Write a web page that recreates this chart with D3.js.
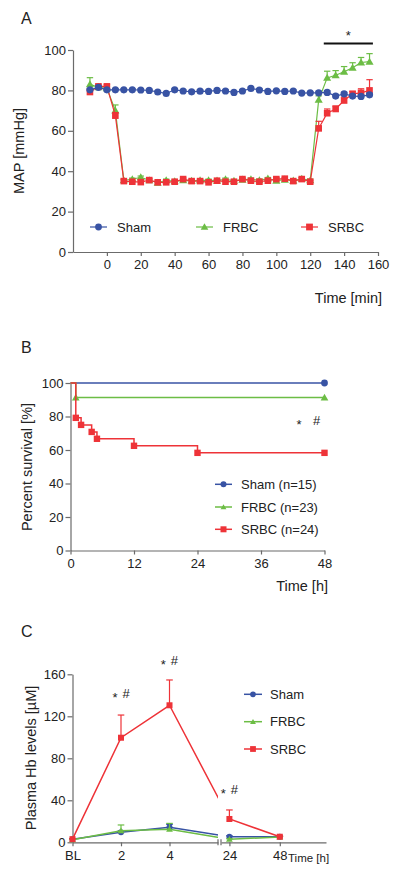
<!DOCTYPE html>
<html><head><meta charset="utf-8">
<script src="https://cdn.jsdelivr.net/npm/d3@7"></script>
<style>
body{margin:0;background:#fff}
svg text{font-family:"Liberation Sans",Arial,Helvetica,sans-serif;fill:#222}
</style>
</head><body>
<svg id="chart" width="400" height="875"></svg>
<script>
// ---------- DATA ----------
const groups = ["Sham","FRBC","SRBC"];
// Panel A: MAP over time
const timesA = [-10,-5,0,5,10,15,20,25,30,35,40,45,50,55,60,65,70,75,80,85,90,95,100,105,110,115,120,125,130,135,140,145,150,155];
const mapSham = [80.3,81.5,80.3,80.3,80.3,80.3,80.2,80,79.2,78.5,80.3,79.7,79.3,79.6,79.5,80,79.7,79,79.7,81,80.2,79.5,79.8,79.5,79.7,78.7,78.8,78.8,79,77.2,78.3,77.2,77,77.8];
const mapFrbc = [83,81.5,81,70,35.5,36,37,35.5,34.3,35.5,35,35.5,35.2,35.5,35.5,35.3,36,35.2,35.8,36,35.5,36.3,35.3,35.8,35.3,36.2,35.5,75.3,86.2,87.5,89.2,91.2,93.8,94.2];
const semFrbc = [3.3,0.8,0.8,2.8,0.6,0.6,0.6,0.6,0.6,0.6,0.6,0.6,0.6,0.6,0.6,0.6,0.6,0.6,0.6,0.6,0.6,0.6,0.6,0.6,0.6,0.6,0.6,2,3.3,2.3,2.6,2.5,2.5,4];
const mapSrbc = [79.2,82,82,67.5,35.1,34.8,34.6,35.6,34.5,34.5,34.8,36.1,35.1,35.1,34.5,35.3,34.8,34.8,36.1,35.3,34.8,35.3,36.1,36.3,35.1,36.1,34.8,61.2,68.7,70.8,75,78.3,78.8,80];
const semSrbc = [0.8,0.8,0.8,1.5,0.6,0.6,0.6,0.6,0.6,0.6,0.6,0.6,0.6,0.6,0.6,0.6,0.6,0.6,0.6,0.6,0.6,0.6,0.6,0.6,0.6,0.6,0.6,3.5,2.1,1.5,1.7,1.2,2,5.3];
const semSham = [0.5,0.5,0.5,0.5,0.5,0.5,0.5,0.5,0.5,0.5,0.5,0.5,0.5,0.5,0.5,0.5,0.5,0.5,0.5,0.5,0.5,0.5,0.5,0.5,0.5,0.5,0.5,0.8,0.8,0.8,0.8,0.8,0.8,0.8];
const ticksAx = [0,20,40,60,80,100,120,140,160];
const ticksAy = [0,20,40,60,80,100];

// Panel B: Kaplan-Meier survival
const survTimesSham = [0,48];
const survSham = [100,100];
const survTimesFrbc = [0,1,48];
const survFrbc = [100,91.3,91.3];
const survTimesSrbc = [0,1,2,4,5,12,24,48];
const survSrbc = [100,79.2,75,70.8,66.7,62.5,58.3,58.3];
const legendB = ["Sham (n=15)","FRBC (n=23)","SRBC (n=24)"];
const ticksBx = [0,12,24,36,48];
const ticksBy = [0,20,40,60,80,100];

// Panel C: plasma Hb levels
const timesC = [0,2,4,24,48];
const timeLabelsC = ["BL","2","4","24","48"];
const hbSham = [3,9.5,14.3,5.4,5.3];
const semHbSham = [0.5,1.5,2.7,0.8,0.5];
const hbFrbc = [2.5,11,12.4,2.9,5];
const semHbFrbc = [0.5,5.5,5.6,0.5,0.5];
const hbSrbc = [3,99.6,130.5,22.2,5.3];
const semHbSrbc = [0.5,21.6,24.1,8.6,0.5];
const ticksCy = [0,40,80,120,160];

// ---------- STYLE ----------
const col = {Sham:"#3853a4", FRBC:"#6cbd45", SRBC:"#ee3338"};
const shape = {Sham:"circle", FRBC:"triangle", SRBC:"square"};
const axisCol = "#6b6b6b";
const svg = d3.select("#chart");

function styleAxis(g){
  g.selectAll("path,line").attr("stroke",axisCol).attr("stroke-width",1.2);
  g.selectAll("text").attr("fill","#222").style("font-size","13px");
}
function marker(g, type, x, y, s, color){
  if(type==="circle") g.append("circle").attr("cx",x).attr("cy",y).attr("r",s).attr("fill",color);
  else if(type==="square") g.append("rect").attr("x",x-s).attr("y",y-s).attr("width",2*s).attr("height",2*s).attr("fill",color);
  else g.append("path").attr("d",d3.symbol(d3.symbolTriangle, s*s*2.2)()).attr("transform",`translate(${x},${y+0.6})`).attr("fill",color);
}
function errBar(g, x, y0, y1, color, w){
  g.append("line").attr("x1",x).attr("x2",x).attr("y1",y0).attr("y2",y1).attr("stroke",color).attr("stroke-width",1.2);
  g.append("line").attr("x1",x-w).attr("x2",x+w).attr("y1",y1).attr("y2",y1).attr("stroke",color).attr("stroke-width",1.2);
}
function label(txt,x,y,size,anchor,extra){
  const t = svg.append("text").attr("x",x).attr("y",y).attr("text-anchor",anchor||"start").style("font-size",size+"px").text(txt);
  return t;
}
function vlabel(txt,x,y,size){
  svg.append("text").attr("transform",`translate(${x},${y}) rotate(-90)`).attr("text-anchor","middle").attr("dy","0.35em").style("font-size",size+"px").text(txt);
}

// ---------- PANEL A ----------
const xA = d3.scaleLinear().domain([-20,160]).range([73,378]);
const yA = d3.scaleLinear().domain([0,100]).range([252,50]);
label("A",21,24,16);
svg.append("g").attr("transform","translate(0,252)")
  .call(d3.axisBottom(xA).tickValues(ticksAx).tickSize(4).tickSizeOuter(0).tickPadding(4)).call(styleAxis);
svg.append("g").attr("transform",`translate(${xA(-20)},0)`)
  .call(d3.axisLeft(yA).tickValues(ticksAy).tickSize(5).tickSizeOuter(0).tickPadding(2)).call(styleAxis);
vlabel("MAP [mmHg]",18.5,151,14.5);
label("Time [min]",382,303,14.5,"end");

const seriesA = [
  {g:"FRBC", v:mapFrbc, e:semFrbc},
  {g:"SRBC", v:mapSrbc, e:semSrbc},
  {g:"Sham", v:mapSham, e:semSham}
];
const lineA = d3.line().x(d=>xA(d[0])).y(d=>yA(d[1]));
seriesA.forEach(s=>{
  const pts = timesA.map((t,i)=>[t,s.v[i]]);
  const g = svg.append("g");
  g.append("path").attr("d",lineA(pts)).attr("fill","none").attr("stroke",col[s.g]).attr("stroke-width",1.2);
  timesA.forEach((t,i)=>errBar(g,xA(t),yA(s.v[i]),yA(s.v[i]+s.e[i]),col[s.g],3.2));
  timesA.forEach((t,i)=>marker(g,shape[s.g],xA(t),yA(s.v[i]),s.g==="FRBC"?3.6:(s.g==="SRBC"?3.3:3.6),col[s.g]));
});
// significance bar
svg.append("line").attr("x1",xA(128)).attr("x2",xA(157)).attr("y1",43.5).attr("y2",43.5).attr("stroke","#111").attr("stroke-width",1.8);
label("*",xA(142.5),39.5,13,"middle");
// legend A
const legA = [{g:"Sham",x:90},{g:"FRBC",x:196},{g:"SRBC",x:301}];
legA.forEach(l=>{
  const g = svg.append("g");
  g.append("line").attr("x1",l.x).attr("x2",l.x+17).attr("y1",227).attr("y2",227).attr("stroke",col[l.g]).attr("stroke-width",1.2);
  marker(g,shape[l.g],l.x+8.5,227,3.4,col[l.g]);
  label(l.g,l.x+27,231.5,13);
});

// ---------- PANEL B ----------
const xB = d3.scaleLinear().domain([0,48]).range([70.5,324.5]);
const yB = d3.scaleLinear().domain([0,100]).range([550.5,383]);
label("B",21,353,16);
svg.append("g").attr("transform","translate(0,550.5)")
  .call(d3.axisBottom(xB).tickValues(ticksBx).tickSize(4).tickSizeOuter(0).tickPadding(4)).call(styleAxis);
svg.append("g").attr("transform","translate(70.5,0)")
  .call(d3.axisLeft(yB).tickValues(ticksBy).tickSize(5).tickSizeOuter(0).tickPadding(2)).call(styleAxis);
vlabel("Percent survival [%]",27,467,14.5);
label("Time [h]",328,591,14.5,"end");

const seriesB = [
  {g:"Sham", t:survTimesSham, v:survSham},
  {g:"FRBC", t:survTimesFrbc, v:survFrbc},
  {g:"SRBC", t:survTimesSrbc, v:survSrbc}
];
const lineB = d3.line().x(d=>xB(d[0])).y(d=>yB(d[1])).curve(d3.curveStepAfter);
seriesB.forEach(s=>{
  const pts = s.t.map((t,i)=>[t,s.v[i]]);
  const g = svg.append("g");
  g.append("path").attr("d",lineB(pts)).attr("fill","none").attr("stroke",col[s.g]).attr("stroke-width",1.5);
  s.t.forEach((t,i)=>{ if(i>0) marker(g,shape[s.g],xB(t),yB(s.v[i]),s.g==="SRBC"?3.2:3.4,col[s.g]); });
});
label("*",299,429,13,"middle");
label("#",316.7,424.7,13,"middle");
legendB.forEach((txt,i)=>{
  const gname = groups[i], y = [484.3,507,529.3][i];
  const g = svg.append("g");
  g.append("line").attr("x1",215).attr("x2",232).attr("y1",y).attr("y2",y).attr("stroke",col[gname]).attr("stroke-width",1.5);
  marker(g,shape[gname],223.5,y,gname==="FRBC"?2.6:3,col[gname]);
  label(txt,241,y+4.5,13);
});

// ---------- PANEL C ----------
const x1C = d3.scaleLinear().domain([0,6]).range([72.5,218]);
const x2C = d3.scaleLinear().domain([20,70]).range([221,326]);
const xC = t => t<=6 ? x1C(t) : x2C(t);
const yC = d3.scaleLinear().domain([0,160]).range([842.3,674.3]);
label("C",21,637,16);
svg.append("g").attr("transform","translate(0,842.3)")
  .call(d3.axisBottom(x1C).tickValues(timesC.filter(t=>t<=6)).tickFormat(d=>timeLabelsC[timesC.indexOf(d)]).tickSize(4).tickSizeOuter(0).tickPadding(4)).call(styleAxis);
svg.append("g").attr("transform","translate(0,842.3)")
  .call(d3.axisBottom(x2C).tickValues(timesC.filter(t=>t>6)).tickFormat(d=>timeLabelsC[timesC.indexOf(d)]).tickSize(4).tickSizeOuter(0).tickPadding(4)).call(styleAxis);
// axis break marks
[x1C.range()[1], x2C.range()[0]].forEach(x=>{
  svg.append("line").attr("x1",x).attr("x2",x).attr("y1",842.3-3).attr("y2",842.3+3).attr("stroke",axisCol).attr("stroke-width",1.2);
});
svg.append("g").attr("transform","translate(72.5,0)")
  .call(d3.axisLeft(yC).tickValues(ticksCy).tickSize(5).tickSizeOuter(0).tickPadding(2)).call(styleAxis);
vlabel("Plasma Hb levels [µM]",31,758,14.5);
label("Time [h]",288,861.5,11.5);

const defs = svg.append("defs");
const cp = defs.append("clipPath").attr("id","brk");
cp.append("rect").attr("x",0).attr("y",600).attr("width",x1C.range()[1]).attr("height",275);
cp.append("rect").attr("x",x2C(24)).attr("y",600).attr("width",400).attr("height",275);

const seriesC = [
  {g:"Sham", v:hbSham, e:semHbSham},
  {g:"FRBC", v:hbFrbc, e:semHbFrbc},
  {g:"SRBC", v:hbSrbc, e:semHbSrbc}
];
const lineC = d3.line().x(d=>xC(d[0])).y(d=>yC(d[1]));
seriesC.forEach(s=>{
  const pts = timesC.map((t,i)=>[t,s.v[i]]);
  const g = svg.append("g");
  g.append("path").attr("d",lineC(pts)).attr("fill","none").attr("stroke",col[s.g]).attr("stroke-width",1.5).attr("clip-path","url(#brk)");
  timesC.forEach((t,i)=>errBar(g,xC(t),yC(s.v[i]),yC(s.v[i]+s.e[i]),col[s.g],3.3));
  timesC.forEach((t,i)=>marker(g,shape[s.g],xC(t),yC(s.v[i]),s.g==="SRBC"?3:3,col[s.g]));
});
// significance marks
[[115,126,701.5,697.7],[163.3,174.3,668.5,664.7],[223.3,234.3,798,793.7]].forEach(p=>{
  label("*",p[0],p[2],13,"middle");
  label("#",p[1],p[3],13,"middle");
});
// legend C
groups.forEach((gname,i)=>{
  const y = [694.3,721.7,749][i];
  const g = svg.append("g");
  g.append("line").attr("x1",244).attr("x2",262).attr("y1",y).attr("y2",y).attr("stroke",col[gname]).attr("stroke-width",1.5);
  marker(g,shape[gname],253,y,gname==="FRBC"?2.6:2.9,col[gname]);
  label(gname,270,y+4.5,13);
});
</script>
</body></html>
